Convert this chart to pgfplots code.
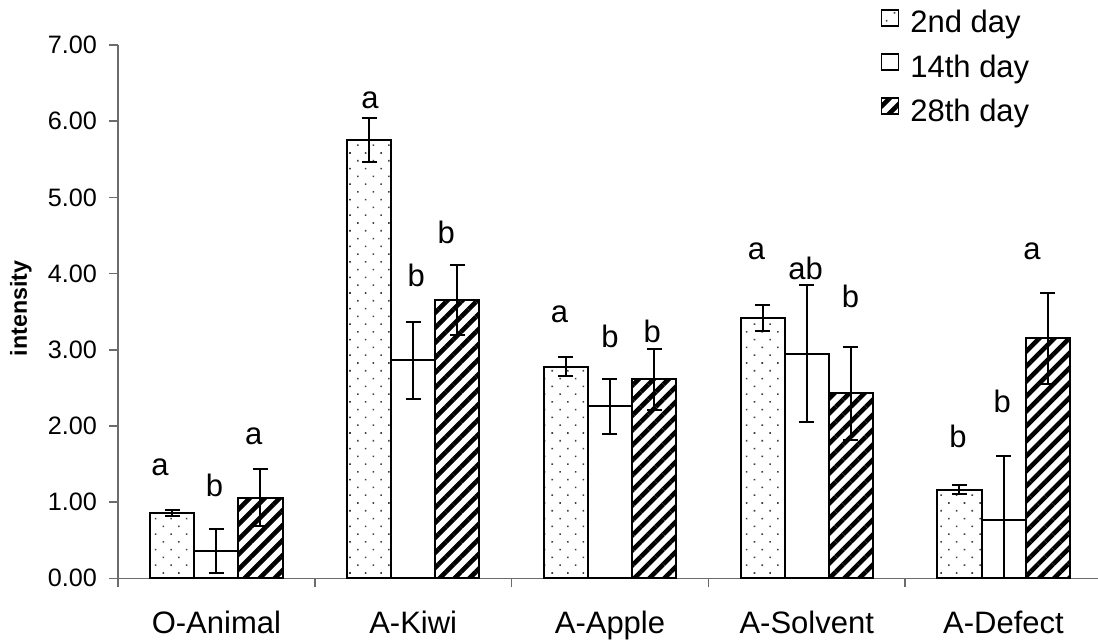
\documentclass[border=0pt]{standalone}
\usepackage{fontspec}
\setmainfont{Liberation Sans}
\usepackage{pgfplots}
\usepackage{pgfplotstable}
\pgfplotsset{compat=1.18}
\usetikzlibrary{patterns,patterns.meta}

\pgfplotstableread{
x y e
0 0.86 0.04
1 5.75 0.29
2 2.78 0.13
3 3.42 0.17
4 1.16 0.06
}\dayTwo
\pgfplotstableread{
x y e
0 0.36 0.29
1 2.86 0.51
2 2.26 0.36
3 2.95 0.90
4 0.76 0.84
}\dayFourteen
\pgfplotstableread{
x y e
0 1.06 0.37
1 3.65 0.46
2 2.61 0.40
3 2.43 0.61
4 3.15 0.60
}\dayTwentyEight

\newcommand{\lblfont}{\fontsize{15.5}{18}\selectfont}

\begin{document}
\begin{tikzpicture}
\begin{axis}[
  at={(0pt,0pt)}, anchor=south west,
  scale only axis, width=490pt, height=266.65pt,
  xmin=-0.5, xmax=4.48, ymin=0, ymax=7,
  axis x line*=bottom, axis y line*=left,
  axis line style={draw=gray!85!black, line width=0.8pt},
  every tick/.style={draw=gray!85!black, line width=0.8pt},
  tick align=outside,
  major tick length=4.5pt,
  ytick={0,1,...,7},
  /pgf/number format/assume math mode=true,
  y tick label style={/pgf/number format/.cd, fixed, zerofill, precision=2, /tikz/.cd, font=\fontsize{12.6}{14}\selectfont, xshift=-2.5pt},
  xtick={-0.5,0.5,1.5,2.5,3.5},
  xticklabels={},
  extra x ticks={0,1,2,3,4},
  extra x tick labels={O-Animal,A-Kiwi,A-Apple,A-Solvent,A-Defect},
  extra x tick style={major tick length=0pt, tick label style={font=\lblfont, anchor=center, text height=11pt, text depth=3pt, yshift=-23.6pt}},
  ylabel={\bfseries intensity},
  every axis y label/.style={at={(axis description cs:-0.099,0.506)}, rotate=90, anchor=center, font=\fontsize{11.6}{13}\selectfont},
  legend style={at={(axis description cs:0.778,1.068)}, anchor=north west, draw=none, fill=none,
    inner sep=0pt, row sep=7.2pt, column sep=5.5pt,
    nodes={inner sep=0pt, font=\lblfont, text height=11pt, text depth=3pt}},
  legend cell align=left,
  legend image code/.code={\draw[#1, line width=0.75pt] (-0.5pt,-0.5pt) rectangle (8pt,7.5pt);},
]
\addplot[ybar, bar width=0.224, draw=black, line width=1pt,
  pattern={Dots[angle=45, distance=5.5pt, radius=0.55pt]}, pattern color=gray!50!black,
  error bars/.cd, y dir=both, y explicit,
  error bar style={line width=1pt, black},
  error mark options={rotate=90, mark size=3.75pt, line width=1pt, black}]
  table[x expr=\thisrow{x}-0.224, y=y, y error=e] {\dayTwo};
\addlegendentry{2nd day}
\addplot[ybar, bar width=0.224, draw=black, line width=1pt, fill=white,
  error bars/.cd, y dir=both, y explicit,
  error bar style={line width=1pt, black},
  error mark options={rotate=90, mark size=3.75pt, line width=1pt, black}]
  table[x=x, y=y, y error=e] {\dayFourteen};
\addlegendentry{14th day}
\addplot[ybar, bar width=0.224, draw=black, line width=1pt,
  pattern={Lines[angle=45, distance=5.3pt, line width=2.3pt]}, pattern color=black,
  error bars/.cd, y dir=both, y explicit,
  error bar style={line width=1pt, black},
  error mark options={rotate=90, mark size=3.75pt, line width=1pt, black}]
  table[x expr=\thisrow{x}+0.224, y=y, y error=e] {\dayTwentyEight};
\addlegendentry{28th day}

\node[font=\lblfont] at (axis cs:-0.286,1.46) {a};
\node[font=\lblfont] at (axis cs:-0.010,1.22) {b};
\node[font=\lblfont] at (axis cs:0.190,1.86) {a};
\node[font=\lblfont] at (axis cs:0.780,6.28) {a};
\node[font=\lblfont] at (axis cs:1.015,3.98) {b};
\node[font=\lblfont] at (axis cs:1.168,4.54) {b};
\node[font=\lblfont] at (axis cs:1.744,3.47) {a};
\node[font=\lblfont] at (axis cs:2.000,3.17) {b};
\node[font=\lblfont] at (axis cs:2.215,3.24) {b};
\node[font=\lblfont] at (axis cs:2.744,4.29) {a};
\node[font=\lblfont] at (axis cs:2.994,4.07) {ab};
\node[font=\lblfont] at (axis cs:3.222,3.70) {b};
\node[font=\lblfont] at (axis cs:3.769,1.86) {b};
\node[font=\lblfont] at (axis cs:3.994,2.32) {b};
\node[font=\lblfont] at (axis cs:4.145,4.29) {a};
\end{axis}
\pgfresetboundingbox
\useasboundingbox (-59pt,-32.35pt) rectangle (490pt,289.15pt);
\end{tikzpicture}
\end{document}
